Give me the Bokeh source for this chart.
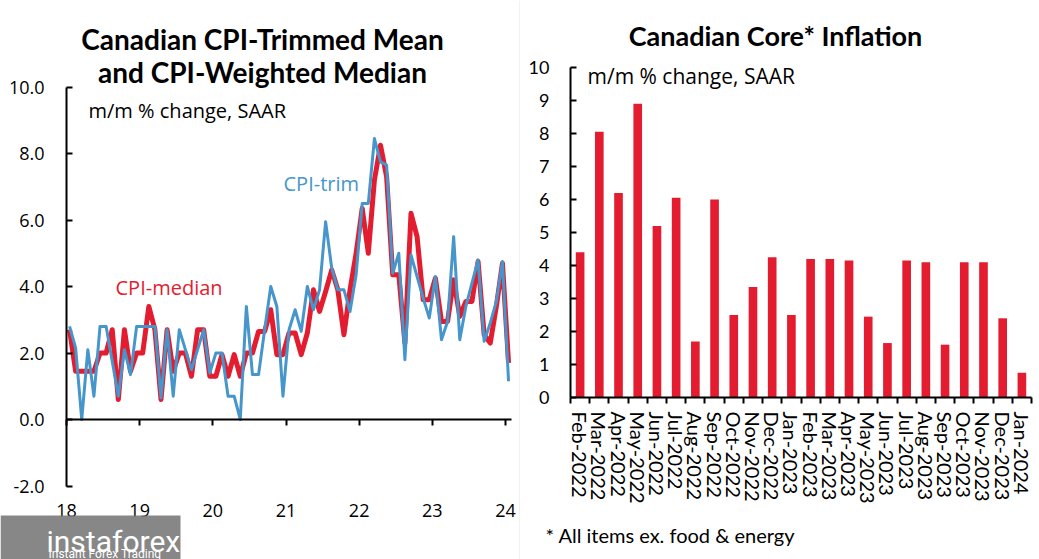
from bokeh.plotting import figure
from bokeh.models import (Range1d, LinearAxis, FixedTicker, Label, NumeralTickFormatter,
                          Span, BoxAnnotation)
from bokeh.layouts import row
from bokeh.embed import file_html
from bokeh.resources import INLINE

# ---------------- data ----------------
start_year = 2018
year_ticks = [2018, 2019, 2020, 2021, 2022, 2023, 2024]
year_labels = ["18", "19", "20", "21", "22", "23", "24"]

cpi_median = [2.7, 1.45, 1.45, 1.45, 1.45, 2.0, 2.0, 2.7, 0.6, 2.7, 1.45, 2.0,
              2.0, 3.4, 2.7, 0.6, 2.7, 1.45, 2.0, 2.0, 1.3, 2.7, 2.7, 1.3,
              1.3, 1.95, 1.3, 1.95, 1.3, 2.0, 2.0, 2.65, 2.65, 3.3, 1.95, 1.95,
              2.6, 2.6, 1.95, 2.6, 3.9, 3.25, 3.85, 4.5, 3.9, 2.55, 3.9, 5.0,
              6.35, 5.0, 7.2, 8.25, 7.3, 4.35, 4.35, 2.3, 6.2, 5.5, 3.6, 3.6,
              4.25, 2.95, 2.95, 4.2, 3.1, 3.55, 3.55, 4.75, 2.55, 2.3, 3.4, 4.7,
              1.7]
cpi_trim = [2.8, 2.15, 0.0, 2.1, 0.7, 2.8, 2.8, 1.75, 0.7, 2.1, 1.35, 2.8,
            2.8, 2.8, 2.8, 0.65, 2.7, 0.7, 2.7, 2.1, 1.5, 2.1, 2.7, 1.4,
            2.0, 2.0, 0.7, 0.7, 0.0, 3.4, 1.35, 1.35, 2.7, 4.0, 3.4, 0.7,
            2.7, 3.3, 2.65, 4.0, 3.3, 3.9, 5.95, 4.55, 3.9, 3.9, 3.25, 4.35,
            6.5, 6.5, 8.45, 7.75, 7.65, 4.4, 5.0, 1.8, 4.95, 4.3, 3.65, 3.05,
            4.3, 2.4, 2.95, 5.5, 2.4, 3.4, 4.1, 4.8, 2.35, 2.9, 3.55, 4.75,
            1.15]
left_y_ticks = [-2, 0, 2, 4, 6, 8, 10]

core_months = ["Feb-2022", "Mar-2022", "Apr-2022", "May-2022", "Jun-2022", "Jul-2022",
               "Aug-2022", "Sep-2022", "Oct-2022", "Nov-2022", "Dec-2022", "Jan-2023",
               "Feb-2023", "Mar-2023", "Apr-2023", "May-2023", "Jun-2023", "Jul-2023",
               "Aug-2023", "Sep-2023", "Oct-2023", "Nov-2023", "Dec-2023", "Jan-2024"]
core_values = [4.4, 8.05, 6.2, 8.9, 5.2, 6.05, 1.7, 6.0, 2.5, 3.35, 4.25, 2.5,
               4.2, 4.2, 4.15, 2.45, 1.65, 4.15, 4.1, 1.6, 4.1, 4.1, 2.4, 0.75]
right_y_ticks = list(range(0, 11))

RED = "#E31D2F"
BLUE = "#4696CC"
FONT = "Open Sans"
FONT2 = "Lato"

W1, W2, H = 520, 519, 559

# ---------------- left chart ----------------
n = len(cpi_median)
xs_left = [start_year + (i + 0.5) / 12 for i in range(n)]

# pixel geometry (styling only)
L_X0, L_PPY = 66.0, 73.1667      # axis pixel, pixels per year
L_Y0, L_PPU = 419.0, 33.25       # zero-line pixel, pixels per unit
def lx(px):
    return start_year + (px - L_X0) / L_PPY
def ly(py):
    return (L_Y0 - py) / L_PPU

p1 = figure(width=W1, height=H, output_backend="svg", toolbar_location=None,
            x_range=Range1d(lx(0), lx(W1)), y_range=Range1d(ly(H), ly(0)),
            x_axis_location=None, y_axis_location=None,
            min_border_left=0, min_border_right=0, min_border_top=0, min_border_bottom=0)
p1.grid.visible = False
p1.outline_line_color = None

end_x = start_year + n / 12

lab_ax = LinearAxis(fixed_location=-2, ticker=FixedTicker(ticks=year_ticks))
lab_ax.major_label_overrides = {t: l for t, l in zip(year_ticks, year_labels)}
lab_ax.axis_line_color = None
lab_ax.major_tick_line_color = None
lab_ax.major_tick_out = 0
lab_ax.major_tick_in = 0
lab_ax.minor_tick_line_color = None
lab_ax.major_label_standoff = 18
lab_ax.major_label_text_font = FONT
lab_ax.major_label_text_font_size = "18px"
lab_ax.major_label_text_color = "black"
p1.add_layout(lab_ax, "below")

zero_ax = LinearAxis(fixed_location=0, ticker=FixedTicker(ticks=year_ticks),
                     bounds=(start_year, end_x))
zero_ax.major_label_text_font_size = "0px"
zero_ax.major_label_text_color = None
zero_ax.axis_line_width = 2
zero_ax.axis_line_color = "black"
zero_ax.major_tick_out = 6
zero_ax.major_tick_in = 0
zero_ax.major_tick_line_width = 2
zero_ax.minor_tick_line_color = None
p1.add_layout(zero_ax, "below")

ya = LinearAxis(fixed_location=start_year, ticker=FixedTicker(ticks=left_y_ticks),
                bounds=(-2, 10))
ya.formatter = NumeralTickFormatter(format="0.0")
ya.major_tick_in = 6
ya.major_tick_out = 0
ya.major_tick_line_width = 2
ya.axis_line_width = 2
ya.minor_tick_line_color = None
ya.major_label_standoff = 22
ya.major_label_text_font = FONT
ya.major_label_text_font_size = "18px"
ya.major_label_text_color = "black"
p1.add_layout(ya, "left")

p1.line(xs_left, cpi_median, line_color=RED, line_width=5, line_join="round")
p1.line(xs_left, cpi_trim, line_color=BLUE, line_width=3, line_join="round")

def add_text(p, x, y, text, size, color="black", font=FONT, bold=False, align="left"):
    p.add_layout(Label(x=x, y=y, text=text, text_align=align, text_baseline="alphabetic",
                       text_font=font, text_font_style="bold" if bold else "normal",
                       text_font_size=size, text_color=color))

add_text(p1, lx(262), ly(38), "Canadian CPI-Trimmed Mean", "28px", font=FONT2, bold=True, align="center")
add_text(p1, lx(262), ly(71), "and CPI-Weighted Median", "28px", font=FONT2, bold=True, align="center")
add_text(p1, lx(88), ly(110), "m/m % change, SAAR", "20px")
add_text(p1, lx(115), ly(287), "CPI-median", "20px", color=RED)
add_text(p1, lx(283), ly(183), "CPI-trim", "20px", color=BLUE)

# panel separator
p1.add_layout(Span(location=lx(W1 - 0.5), dimension="height", line_color="#e4e4e4", line_width=1))

# watermark overlay
p1.add_layout(BoxAnnotation(left=lx(0), right=lx(180), bottom=ly(H), top=ly(515),
                            fill_color="#7a7a7a", fill_alpha=0.9, line_color=None))
add_text(p1, lx(46), ly(541), "instaforex", "30px", color="white", font="Roboto")
add_text(p1, lx(48), ly(553), "Instant Forex Trading", "12px", color="white", font="Roboto")

# ---------------- right chart ----------------
m = len(core_values)
xs_right = [i + 0.5 for i in range(m)]

R_X0, R_PPC = 50.0, 461.0 / 24   # axis pixel (in figure), pixels per category
R_Y0, R_PPU = 397.0, 33.0
def rx(px):
    return (px - R_X0) / R_PPC
def ry(py):
    return (R_Y0 - py) / R_PPU

p2 = figure(width=W2, height=H, output_backend="svg", toolbar_location=None,
            x_range=Range1d(rx(0), rx(W2)), y_range=Range1d(ry(H), ry(0)),
            x_axis_location=None, y_axis_location=None,
            min_border_left=0, min_border_right=0, min_border_top=0, min_border_bottom=0)
p2.grid.visible = False
p2.outline_line_color = None

p2.vbar(x=xs_right, top=core_values, width=0.45, fill_color=RED, line_color=None)

cat_ax = LinearAxis(fixed_location=0, ticker=FixedTicker(ticks=xs_right))
cat_ax.major_label_overrides = {x: c for x, c in zip(xs_right, core_months)}
cat_ax.major_label_orientation = "vertical"
cat_ax.axis_line_color = None
cat_ax.major_tick_line_color = None
cat_ax.major_tick_out = 0
cat_ax.major_tick_in = 0
cat_ax.minor_tick_line_color = None
cat_ax.major_label_standoff = 14
cat_ax.major_label_text_font = FONT2
cat_ax.major_label_text_font_size = "20px"
cat_ax.major_label_text_color = "black"
p2.add_layout(cat_ax, "below")

base_ax = LinearAxis(fixed_location=0, ticker=FixedTicker(ticks=list(range(m + 1))),
                     bounds=(0, m))
base_ax.major_label_text_font_size = "0px"
base_ax.major_label_text_color = None
base_ax.axis_line_width = 2
base_ax.axis_line_color = "black"
base_ax.major_tick_out = 6
base_ax.major_tick_in = 0
base_ax.major_tick_line_width = 2
base_ax.minor_tick_line_color = None
p2.add_layout(base_ax, "below")

ya2 = LinearAxis(fixed_location=0, ticker=FixedTicker(ticks=right_y_ticks), bounds=(0, 10))
ya2.formatter = NumeralTickFormatter(format="0")
ya2.major_tick_in = 6
ya2.major_tick_out = 0
ya2.major_tick_line_width = 2
ya2.axis_line_width = 2
ya2.minor_tick_line_color = None
ya2.major_label_standoff = 21
ya2.major_label_text_font = FONT2
ya2.major_label_text_font_size = "18px"
ya2.major_label_text_color = "black"
p2.add_layout(ya2, "left")

add_text(p2, rx(255), ry(35), "Canadian Core* Inflation", "27px", font=FONT2, bold=True, align="center")
add_text(p2, rx(67), ry(75), "m/m % change, SAAR", "21px")
add_text(p2, rx(25), ry(534), "* All items ex. food & energy", "20px", font=FONT2)

layout = row(p1, p2, spacing=0)
open("out.html", "w").write(file_html(layout, INLINE))
